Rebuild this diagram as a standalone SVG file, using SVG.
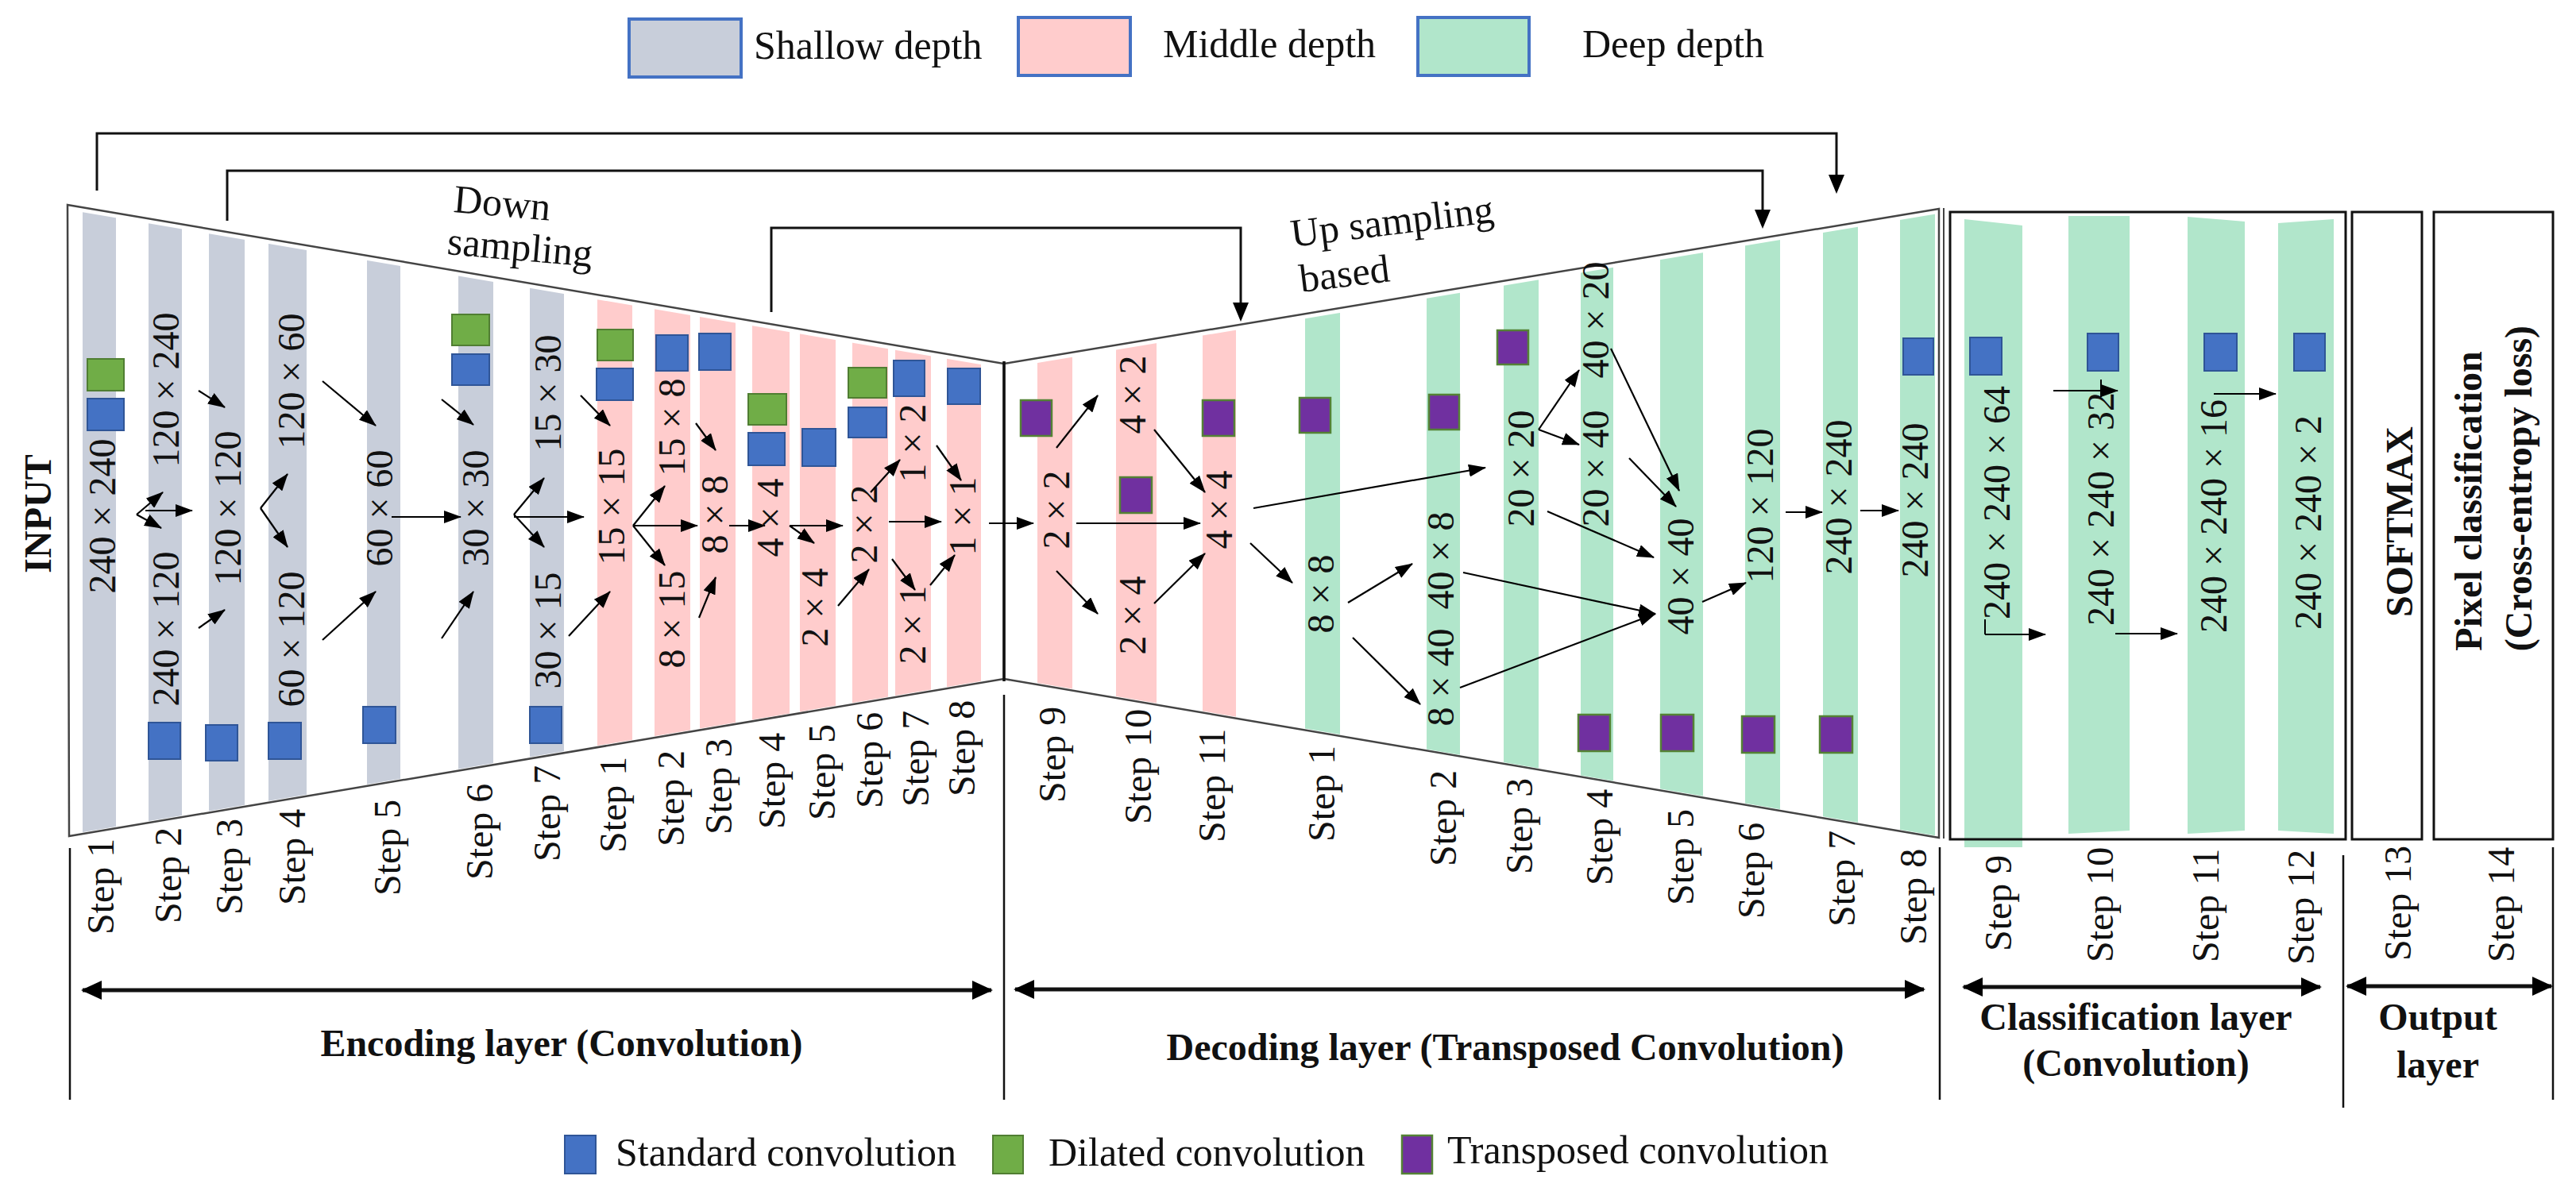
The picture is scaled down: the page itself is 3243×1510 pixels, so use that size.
<svg xmlns="http://www.w3.org/2000/svg" width="3243" height="1510" viewBox="0 0 3243 1510">
<style>
.gray{fill:#C8CEDA}
.pink{fill:#FFCCCC}
.green{fill:#B1E6CB}
.sb{fill:#4472C4;stroke:#2F5597;stroke-width:2}
.sg{fill:#70AD47;stroke:#507E32;stroke-width:2}
.sp{fill:#7030A0;stroke:#548235;stroke-width:2.5}
.t{font-family:"Liberation Serif","Times New Roman",serif;fill:#111}
.sz{font-size:48px;text-anchor:middle}
.st{font-size:48px}
.bold{font-weight:bold;font-size:48px}
.leg{font-size:50px}
.a{stroke:#000;stroke-width:2.2;fill:none;marker-end:url(#ah)}
.skip{stroke:#111;stroke-width:3;fill:none}
.outline{stroke:#444;stroke-width:2.5;fill:none}
.div{stroke:#111;stroke-width:2.5}
.dbl{stroke:#111;stroke-width:5;marker-start:url(#dh);marker-end:url(#dh)}
.box{fill:none;stroke:#111;stroke-width:3}
</style>
<defs>
<marker id="ah" markerUnits="userSpaceOnUse" markerWidth="22" markerHeight="16" refX="21" refY="8" orient="auto"><path d="M0,0 L22,8 L0,16 z" fill="#000"/></marker>
<marker id="dh" markerUnits="userSpaceOnUse" markerWidth="26" markerHeight="24" refX="24" refY="12" orient="auto-start-reverse"><path d="M0,0 L26,12 L0,24 z" fill="#000"/></marker>
<clipPath id="encClip"><polygon points="85,264 1264,464 1264,853 87,1051"/></clipPath>
<clipPath id="decClip"><polygon points="1264,464 2440,269 2440,1053 1264,853"/></clipPath>
</defs>
<rect width="3243" height="1510" fill="#fff"/>

<g id="legend-top">
<rect x="792" y="24" width="141" height="73" fill="#C8CEDA" stroke="#4472C4" stroke-width="4"/>
<text class="t leg" x="949" y="74">Shallow depth</text>
<rect x="1282" y="22" width="141" height="73" fill="#FFCCCC" stroke="#4472C4" stroke-width="4"/>
<text class="t leg" x="1464" y="72">Middle depth</text>
<rect x="1785" y="22" width="140" height="73" fill="#B1E6CB" stroke="#4472C4" stroke-width="4"/>
<text class="t leg" x="1992" y="72">Deep depth</text>
</g>

<g id="skip-connections">
<polyline class="skip" points="122,240 122,168 2312,168 2312,222"/>
<path d="M2302,220 L2312,244 L2322,220 z" fill="#000"/>
<polyline class="skip" points="286,278 286,215 2219,215 2219,266"/>
<path d="M2209,264 L2219,288 L2229,264 z" fill="#000"/>
<polyline class="skip" points="971,393 971,287 1562,287 1562,383"/>
<path d="M1552,381 L1562,405 L1572,381 z" fill="#000"/>
</g>

<g id="frames">
<polygon class="outline" points="85,258 1264,458 1264,855 87,1053"/>
<polygon class="outline" points="1264,458 2441,263 2441,1055 1264,855"/>
<line x1="2447" y1="262" x2="2447" y2="1056" stroke="#444" stroke-width="2"/>
<line x1="1264" y1="455" x2="1264" y2="858" stroke="#111" stroke-width="3.5"/>
<text class="t leg" x="570" y="267" transform="rotate(5 570 267)">Down</text>
<text class="t leg" x="562" y="320" transform="rotate(5 562 320)">sampling</text>
<text class="t leg" x="1627" y="311" transform="rotate(-7 1627 311)">Up sampling</text>
<text class="t leg" x="1638" y="368" transform="rotate(-7 1638 368)">based</text>
<text class="t bold" x="64" y="647" text-anchor="middle" transform="rotate(-90 64 647)">INPUT</text>
</g>

<!-- Encoder -->
<g id="enc-s1">
<rect class="gray" x="104" y="200" width="42" height="900" clip-path="url(#encClip)"/>
<rect class="sg" x="110" y="452" width="46" height="40"/>
<rect class="sb" x="110" y="502" width="46" height="40"/>
<text class="t sz" x="145" y="650" transform="rotate(-90 145 650)">240 × 240</text>
<text class="t st" x="143" y="1177" transform="rotate(-90 143 1177)">Step 1</text>
</g>
<g id="enc-s2">
<rect class="gray" x="187" y="200" width="42" height="900" clip-path="url(#encClip)"/>
<rect class="sb" x="187" y="910" width="40" height="46"/>
<text class="t sz" x="225" y="491" transform="rotate(-90 225 491)">120 × 240</text>
<text class="t sz" x="225" y="792" transform="rotate(-90 225 792)">240 × 120</text>
<text class="t st" x="228" y="1163" transform="rotate(-90 228 1163)">Step 2</text>
</g>
<g id="enc-s3">
<rect class="gray" x="263" y="200" width="45" height="900" clip-path="url(#encClip)"/>
<rect class="sb" x="259" y="913" width="40" height="45"/>
<text class="t sz" x="303" y="640" transform="rotate(-90 303 640)">120 × 120</text>
<text class="t st" x="305" y="1152" transform="rotate(-90 305 1152)">Step 3</text>
</g>
<g id="enc-s4">
<rect class="gray" x="338" y="200" width="48" height="900" clip-path="url(#encClip)"/>
<rect class="sb" x="338" y="910" width="41" height="46"/>
<text class="t sz" x="383" y="480" transform="rotate(-90 383 480)">120 × 60</text>
<text class="t sz" x="383" y="805" transform="rotate(-90 383 805)">60 × 120</text>
<text class="t st" x="384" y="1140" transform="rotate(-90 384 1140)">Step 4</text>
</g>
<g id="enc-s5">
<rect class="gray" x="462" y="200" width="42" height="900" clip-path="url(#encClip)"/>
<rect class="sb" x="457" y="890" width="41" height="46"/>
<text class="t sz" x="494" y="640" transform="rotate(-90 494 640)">60 × 60</text>
<text class="t st" x="504" y="1128" transform="rotate(-90 504 1128)">Step 5</text>
</g>
<g id="enc-s6">
<rect class="gray" x="577" y="200" width="44" height="900" clip-path="url(#encClip)"/>
<rect class="sg" x="569" y="396" width="47" height="39"/>
<rect class="sb" x="569" y="446" width="47" height="39"/>
<text class="t sz" x="615" y="640" transform="rotate(-90 615 640)">30 × 30</text>
<text class="t st" x="620" y="1108" transform="rotate(-90 620 1108)">Step 6</text>
</g>
<g id="enc-s7">
<rect class="gray" x="667" y="200" width="43" height="900" clip-path="url(#encClip)"/>
<rect class="sb" x="667" y="890" width="40" height="46"/>
<text class="t sz" x="706" y="495" transform="rotate(-90 706 495)">15 × 30</text>
<text class="t sz" x="706" y="794" transform="rotate(-90 706 794)">30 × 15</text>
<text class="t st" x="705" y="1085" transform="rotate(-90 705 1085)">Step 7</text>
</g>
<g id="enc-p1">
<rect class="pink" x="752" y="200" width="44" height="900" clip-path="url(#encClip)"/>
<rect class="sg" x="752" y="415" width="45" height="39"/>
<rect class="sb" x="751" y="464" width="46" height="40"/>
<text class="t sz" x="786" y="638" transform="rotate(-90 786 638)">15 × 15</text>
<text class="t st" x="788" y="1074" transform="rotate(-90 788 1074)">Step 1</text>
</g>
<g id="enc-p2">
<rect class="pink" x="824" y="200" width="45" height="900" clip-path="url(#encClip)"/>
<rect class="sb" x="826" y="422" width="40" height="45"/>
<text class="t sz" x="862" y="538" transform="rotate(-90 862 538)">15 × 8</text>
<text class="t sz" x="862" y="780" transform="rotate(-90 862 780)">8 × 15</text>
<text class="t st" x="861" y="1066" transform="rotate(-90 861 1066)">Step 2</text>
</g>
<g id="enc-p3">
<rect class="pink" x="881" y="200" width="45" height="900" clip-path="url(#encClip)"/>
<rect class="sb" x="880" y="420" width="40" height="46"/>
<text class="t sz" x="916" y="648" transform="rotate(-90 916 648)">8 × 8</text>
<text class="t st" x="921" y="1051" transform="rotate(-90 921 1051)">Step 3</text>
</g>
<g id="enc-p4">
<rect class="pink" x="947" y="200" width="47" height="900" clip-path="url(#encClip)"/>
<rect class="sg" x="942" y="496" width="48" height="39"/>
<rect class="sb" x="942" y="545" width="46" height="41"/>
<text class="t sz" x="986" y="652" transform="rotate(-90 986 652)">4 × 4</text>
<text class="t st" x="988" y="1044" transform="rotate(-90 988 1044)">Step 4</text>
</g>
<g id="enc-p5">
<rect class="pink" x="1007" y="200" width="45" height="900" clip-path="url(#encClip)"/>
<rect class="sb" x="1010" y="540" width="42" height="47"/>
<text class="t sz" x="1042" y="765" transform="rotate(-90 1042 765)">2 × 4</text>
<text class="t st" x="1051" y="1033" transform="rotate(-90 1051 1033)">Step 5</text>
</g>
<g id="enc-p6">
<rect class="pink" x="1073" y="200" width="45" height="900" clip-path="url(#encClip)"/>
<rect class="sg" x="1068" y="463" width="48" height="38"/>
<rect class="sb" x="1068" y="513" width="48" height="38"/>
<text class="t sz" x="1104" y="660" transform="rotate(-90 1104 660)">2 × 2</text>
<text class="t st" x="1111" y="1018" transform="rotate(-90 1111 1018)">Step 6</text>
</g>
<g id="enc-p7">
<rect class="pink" x="1127" y="200" width="45" height="900" clip-path="url(#encClip)"/>
<rect class="sb" x="1125" y="454" width="39" height="45"/>
<text class="t sz" x="1165" y="558" transform="rotate(-90 1165 558)">1 × 2</text>
<text class="t sz" x="1165" y="787" transform="rotate(-90 1165 787)">2 × 1</text>
<text class="t st" x="1169" y="1016" transform="rotate(-90 1169 1016)">Step 7</text>
</g>
<g id="enc-p8">
<rect class="pink" x="1192" y="200" width="43" height="900" clip-path="url(#encClip)"/>
<rect class="sb" x="1193" y="464" width="41" height="45"/>
<text class="t sz" x="1228" y="650" transform="rotate(-90 1228 650)">1 × 1</text>
<text class="t st" x="1227" y="1003" transform="rotate(-90 1227 1003)">Step 8</text>
</g>

<!-- Decoder -->
<g id="dec-p9">
<rect class="pink" x="1306" y="200" width="44" height="900" clip-path="url(#decClip)"/>
<rect class="sp" x="1285" y="504" width="39" height="45"/>
<text class="t sz" x="1346" y="642" transform="rotate(-90 1346 642)">2 × 2</text>
<text class="t st" x="1341" y="1011" transform="rotate(-90 1341 1011)">Step 9</text>
</g>
<g id="dec-p10">
<rect class="pink" x="1405" y="200" width="51" height="900" clip-path="url(#decClip)"/>
<rect class="sp" x="1410" y="601" width="40" height="45"/>
<text class="t sz" x="1442" y="497" transform="rotate(-90 1442 497)">4 × 2</text>
<text class="t sz" x="1442" y="775" transform="rotate(-90 1442 775)">2 × 4</text>
<text class="t st" x="1449" y="1038" transform="rotate(-90 1449 1038)">Step 10</text>
</g>
<g id="dec-p11">
<rect class="pink" x="1514" y="200" width="42" height="900" clip-path="url(#decClip)"/>
<rect class="sp" x="1514" y="504" width="40" height="45"/>
<text class="t sz" x="1551" y="642" transform="rotate(-90 1551 642)">4 × 4</text>
<text class="t st" x="1542" y="1061" transform="rotate(-90 1542 1061)">Step 11</text>
</g>
<g id="dec-g1">
<rect class="green" x="1643" y="200" width="44" height="900" clip-path="url(#decClip)"/>
<rect class="sp" x="1636" y="501" width="39" height="44"/>
<text class="t sz" x="1679" y="748" transform="rotate(-90 1679 748)">8 × 8</text>
<text class="t st" x="1680" y="1060" transform="rotate(-90 1680 1060)">Step 1</text>
</g>
<g id="dec-g2">
<rect class="green" x="1796" y="200" width="42" height="900" clip-path="url(#decClip)"/>
<rect class="sp" x="1799" y="497" width="38" height="44"/>
<text class="t sz" x="1830" y="706" transform="rotate(-90 1830 706)">40 × 8</text>
<text class="t sz" x="1830" y="853" transform="rotate(-90 1830 853)">8 × 40</text>
<text class="t st" x="1833" y="1091" transform="rotate(-90 1833 1091)">Step 2</text>
</g>
<g id="dec-g3">
<rect class="green" x="1893" y="200" width="44" height="900" clip-path="url(#decClip)"/>
<rect class="sp" x="1885" y="416" width="39" height="43"/>
<text class="t sz" x="1931" y="590" transform="rotate(-90 1931 590)">20 × 20</text>
<text class="t st" x="1929" y="1101" transform="rotate(-90 1929 1101)">Step 3</text>
</g>
<g id="dec-g4">
<rect class="green" x="1990" y="200" width="41" height="900" clip-path="url(#decClip)"/>
<rect class="sp" x="1987" y="900" width="40" height="46"/>
<text class="t sz" x="2025" y="403" transform="rotate(-90 2025 403)">40 × 20</text>
<text class="t sz" x="2025" y="590" transform="rotate(-90 2025 590)">20 × 40</text>
<text class="t st" x="2030" y="1115" transform="rotate(-90 2030 1115)">Step 4</text>
</g>
<g id="dec-g5">
<rect class="green" x="2090" y="200" width="54" height="900" clip-path="url(#decClip)"/>
<rect class="sp" x="2091" y="900" width="41" height="46"/>
<text class="t sz" x="2132" y="726" transform="rotate(-90 2132 726)">40 × 40</text>
<text class="t st" x="2132" y="1140" transform="rotate(-90 2132 1140)">Step 5</text>
</g>
<g id="dec-g6">
<rect class="green" x="2197" y="200" width="44" height="900" clip-path="url(#decClip)"/>
<rect class="sp" x="2193" y="902" width="41" height="46"/>
<text class="t sz" x="2232" y="637" transform="rotate(-90 2232 637)">120 × 120</text>
<text class="t st" x="2221" y="1157" transform="rotate(-90 2221 1157)">Step 6</text>
</g>
<g id="dec-g7">
<rect class="green" x="2295" y="200" width="44" height="900" clip-path="url(#decClip)"/>
<rect class="sp" x="2291" y="902" width="41" height="46"/>
<text class="t sz" x="2331" y="626" transform="rotate(-90 2331 626)">240 × 240</text>
<text class="t st" x="2335" y="1167" transform="rotate(-90 2335 1167)">Step 7</text>
</g>
<g id="dec-g8">
<rect class="green" x="2392" y="200" width="44" height="900" clip-path="url(#decClip)"/>
<rect class="sb" x="2396" y="426" width="38" height="46"/>
<text class="t sz" x="2427" y="630" transform="rotate(-90 2427 630)">240 × 240</text>
<text class="t st" x="2425" y="1190" transform="rotate(-90 2425 1190)">Step 8</text>
</g>

<!-- Classification -->
<g id="cls-s9">
<polygon class="green" points="2473,276 2546,284 2546,1067 2473,1067"/>
<rect class="sb" x="2480" y="425" width="40" height="47"/>
<text class="t sz" x="2530" y="633" transform="rotate(-90 2530 633)">240 × 240 × 64</text>
<text class="t st" x="2532" y="1198" transform="rotate(-90 2532 1198)">Step 9</text>
</g>
<g id="cls-s10">
<polygon class="green" points="2604,272 2681,272 2681,1046 2604,1050"/>
<rect class="sb" x="2628" y="420" width="39" height="47"/>
<text class="t sz" x="2661" y="641" transform="rotate(-90 2661 641)">240 × 240 × 32</text>
<text class="t st" x="2660" y="1212" transform="rotate(-90 2660 1212)">Step 10</text>
</g>
<g id="cls-s11">
<polygon class="green" points="2754,273 2826,279 2826,1046 2754,1050"/>
<rect class="sb" x="2775" y="420" width="41" height="47"/>
<text class="t sz" x="2803" y="650" transform="rotate(-90 2803 650)">240 × 240 × 16</text>
<text class="t st" x="2793" y="1212" transform="rotate(-90 2793 1212)">Step 11</text>
</g>
<g id="cls-s12">
<polygon class="green" points="2868,281 2938,276 2938,1050 2868,1046"/>
<rect class="sb" x="2888" y="420" width="39" height="47"/>
<text class="t sz" x="2922" y="658" transform="rotate(-90 2922 658)">240 × 240 × 2</text>
<text class="t st" x="2913" y="1215" transform="rotate(-90 2913 1215)">Step 12</text>
</g>
<g id="cls-box">
<rect class="box" x="2455" y="267" width="498" height="790"/>
</g>
<g id="softmax">
<rect class="box" x="2961" y="267" width="88" height="790"/>
<text class="t bold" x="3037" y="657" text-anchor="middle" transform="rotate(-90 3037 657)">SOFTMAX</text>
<text class="t st" x="3035" y="1210" transform="rotate(-90 3035 1210)">Step 13</text>
</g>
<g id="pixel-classification">
<rect class="box" x="3064" y="267" width="150" height="790"/>
<text class="t bold" x="3124" y="631" text-anchor="middle" transform="rotate(-90 3124 631)">Pixel classification</text>
<text class="t bold" x="3187" y="615" text-anchor="middle" transform="rotate(-90 3187 615)">(Cross-entropy loss)</text>
<text class="t st" x="3165" y="1212" transform="rotate(-90 3165 1212)">Step 14</text>
</g>

<g id="connectors">
<line class="a" x1="172" y1="648" x2="205" y2="620"/>
<line class="a" x1="172" y1="648" x2="203" y2="665"/>
<line class="a" x1="183" y1="643" x2="242" y2="643"/>
<line class="a" x1="250" y1="492" x2="283" y2="513"/>
<line class="a" x1="250" y1="791" x2="283" y2="768"/>
<line class="a" x1="328" y1="640" x2="362" y2="597"/>
<line class="a" x1="328" y1="640" x2="362" y2="689"/>
<line class="a" x1="406" y1="480" x2="473" y2="536"/>
<line class="a" x1="406" y1="806" x2="473" y2="745"/>
<line class="a" x1="493" y1="651" x2="580" y2="651"/>
<line class="a" x1="556" y1="503" x2="596" y2="535"/>
<line class="a" x1="556" y1="804" x2="596" y2="745"/>
<line class="a" x1="647" y1="648" x2="685" y2="602"/>
<line class="a" x1="647" y1="648" x2="685" y2="689"/>
<line class="a" x1="647" y1="651" x2="735" y2="651"/>
<line class="a" x1="731" y1="498" x2="768" y2="536"/>
<line class="a" x1="716" y1="801" x2="768" y2="745"/>
<line class="a" x1="797" y1="662" x2="837" y2="612"/>
<line class="a" x1="797" y1="662" x2="837" y2="712"/>
<line class="a" x1="797" y1="662" x2="878" y2="662"/>
<line class="a" x1="876" y1="533" x2="901" y2="567"/>
<line class="a" x1="880" y1="778" x2="901" y2="727"/>
<line class="a" x1="918" y1="662" x2="963" y2="662"/>
<line class="a" x1="994" y1="662" x2="1061" y2="662"/>
<line class="a" x1="994" y1="662" x2="1025" y2="684"/>
<line class="a" x1="1055" y1="763" x2="1094" y2="717"/>
<line class="a" x1="1096" y1="620" x2="1133" y2="579"/>
<line class="a" x1="1119" y1="657" x2="1185" y2="657"/>
<line class="a" x1="1123" y1="704" x2="1152" y2="743"/>
<line class="a" x1="1179" y1="561" x2="1210" y2="605"/>
<line class="a" x1="1171" y1="737" x2="1202" y2="699"/>
<line class="a" x1="1245" y1="659" x2="1301" y2="659"/>
<line class="a" x1="1330" y1="564" x2="1382" y2="498"/>
<line class="a" x1="1355" y1="659" x2="1511" y2="659"/>
<line class="a" x1="1330" y1="719" x2="1382" y2="773"/>
<line class="a" x1="1453" y1="541" x2="1517" y2="620"/>
<line class="a" x1="1453" y1="760" x2="1517" y2="697"/>
<line class="a" x1="1578" y1="640" x2="1870" y2="589"/>
<line class="a" x1="1574" y1="684" x2="1627" y2="734"/>
<line class="a" x1="1697" y1="759" x2="1778" y2="710"/>
<line class="a" x1="1703" y1="803" x2="1788" y2="887"/>
<line class="a" x1="1842" y1="721" x2="2084" y2="773"/>
<line class="a" x1="1838" y1="866" x2="2084" y2="773"/>
<line class="a" x1="1937" y1="541" x2="1988" y2="466"/>
<line class="a" x1="1937" y1="541" x2="1988" y2="560"/>
<line class="a" x1="1948" y1="644" x2="2082" y2="702"/>
<line class="a" x1="2028" y1="439" x2="2114" y2="618"/>
<line class="a" x1="2051" y1="577" x2="2110" y2="638"/>
<line class="a" x1="2143" y1="758" x2="2198" y2="734"/>
<line class="a" x1="2248" y1="645" x2="2294" y2="645"/>
<line class="a" x1="2342" y1="643" x2="2390" y2="643"/>
<line x1="2499" y1="780" x2="2499" y2="799" stroke="#000" stroke-width="2"/>
<line class="a" x1="2499" y1="799" x2="2575" y2="799"/>
<line class="a" x1="2585" y1="492" x2="2666" y2="492"/>
<line x1="2645" y1="478" x2="2645" y2="500" stroke="#000" stroke-width="2"/>
<line class="a" x1="2663" y1="798" x2="2741" y2="798"/>
<line class="a" x1="2787" y1="496" x2="2865" y2="496"/>
</g>

<g id="sections">
<line class="div" x1="88" y1="1068" x2="88" y2="1385"/>
<line class="div" x1="1264" y1="875" x2="1264" y2="1385"/>
<line class="div" x1="2442" y1="1067" x2="2442" y2="1385"/>
<line class="div" x1="2950" y1="1077" x2="2950" y2="1395"/>
<line class="div" x1="3214" y1="1067" x2="3214" y2="1385"/>
<line class="dbl" x1="104" y1="1247" x2="1248" y2="1247"/>
<line class="dbl" x1="1278" y1="1246" x2="2422" y2="1246"/>
<line class="dbl" x1="2472" y1="1243" x2="2921" y2="1243"/>
<line class="dbl" x1="2955" y1="1242" x2="3212" y2="1242"/>
<text class="t bold" x="707" y="1330" text-anchor="middle">Encoding layer (Convolution)</text>
<text class="t bold" x="1895" y="1335" text-anchor="middle">Decoding layer (Transposed Convolution)</text>
<text class="t bold" x="2689" y="1297" text-anchor="middle">Classification layer</text>
<text class="t bold" x="2689" y="1355" text-anchor="middle">(Convolution)</text>
<text class="t bold" x="3069" y="1297" text-anchor="middle">Output</text>
<text class="t bold" x="3069" y="1357" text-anchor="middle">layer</text>
</g>

<g id="legend-bottom">
<rect class="sb" x="711" y="1430" width="39" height="48"/>
<text class="t leg" x="775" y="1468">Standard  convolution</text>
<rect class="sg" x="1250" y="1430" width="38" height="48"/>
<text class="t leg" x="1320" y="1468">Dilated convolution</text>
<rect class="sp" x="1765" y="1430" width="38" height="48"/>
<text class="t leg" x="1822" y="1465">Transposed convolution</text>
</g>
</svg>
